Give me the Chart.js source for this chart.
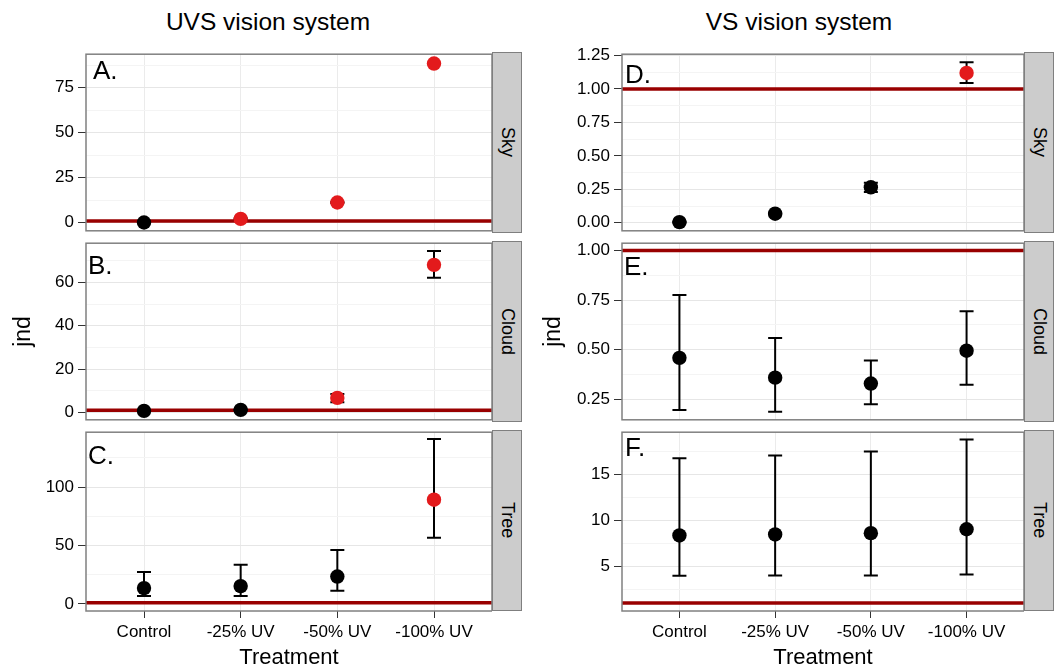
<!DOCTYPE html>
<html>
<head>
<meta charset="utf-8">
<script src="https://cdn.jsdelivr.net/npm/chart.js@4"></script>
<style>
  body { margin: 0; background: #fff; width: 1060px; height: 668px; position: relative; overflow: hidden;
         font-family: 'Liberation Sans', Arial, sans-serif; color: #000; }
  .strip { position: absolute; background: #cccccc; border: 1px solid #7f7f7f; box-sizing: border-box;
           display: flex; align-items: center; justify-content: center; writing-mode: vertical-rl; font-size: 18px; }
  .title { position: absolute; font-size: 24.5px; line-height: 1; transform: translateX(-50%); white-space: nowrap; }
  .tag { position: absolute; font-size: 26px; line-height: 1; }
</style>
</head>
<body>
<script>
  // categories on the x axis
  const categories = ['Control', '-25% UV', '-50% UV', '-100% UV'];
  const threshold = 1;

  // UVS vision system
  const uvsSkyMean  = [0.1, 2.1, 11.2, 88.3];
  const uvsSkyLow   = [-0.1, 1.8, 10.9, 88.0];
  const uvsSkyHigh  = [0.3, 2.4, 11.5, 88.6];
  const uvsSkyRed   = [false, true, true, true];
  const uvsSkyTicks = [0, 25, 50, 75];

  const uvsCloudMean  = [0.7, 1.2, 6.7, 68.1];
  const uvsCloudLow   = [0.5, 1.0, 4.7, 62.1];
  const uvsCloudHigh  = [0.9, 1.4, 8.5, 74.5];
  const uvsCloudRed   = [false, false, true, true];
  const uvsCloudTicks = [0, 20, 40, 60];

  const uvsTreeMean  = [13.5, 15.2, 23.4, 89.2];
  const uvsTreeLow   = [6.8, 6.8, 11.3, 56.6];
  const uvsTreeHigh  = [27.4, 33.6, 46.2, 141.2];
  const uvsTreeRed   = [false, false, false, true];
  const uvsTreeTicks = [0, 50, 100];

  // VS vision system
  const vsSkyMean  = [0.005, 0.068, 0.265, 1.12];
  const vsSkyLow   = [0.0, 0.062, 0.23, 1.044];
  const vsSkyHigh  = [0.01, 0.074, 0.30, 1.20];
  const vsSkyRed   = [false, false, false, true];
  const vsSkyTicks = [0, 0.25, 0.5, 0.75, 1, 1.25];

  const vsCloudMean  = [0.458, 0.358, 0.328, 0.494];
  const vsCloudLow   = [0.195, 0.186, 0.224, 0.322];
  const vsCloudHigh  = [0.775, 0.558, 0.444, 0.693];
  const vsCloudRed   = [false, false, false, false];
  const vsCloudTicks = [0.25, 0.5, 0.75, 1];

  const vsTreeMean  = [8.35, 8.46, 8.6, 9.03];
  const vsTreeLow   = [3.97, 4.0, 4.0, 4.1];
  const vsTreeHigh  = [16.75, 17.07, 17.5, 18.8];
  const vsTreeRed   = [false, false, false, false];
  const vsTreeTicks = [5, 10, 15];

  const panels = [
    { col: 0, row: 0, tag: 'A.', strip: 'Sky',   mean: uvsSkyMean,   low: uvsSkyLow,   high: uvsSkyHigh,   red: uvsSkyRed,   ticks: uvsSkyTicks,   yMin: -4.5, yMax: 93.5, dec: 0, tagPos: [93, 57] },
    { col: 0, row: 1, tag: 'B.', strip: 'Cloud', mean: uvsCloudMean, low: uvsCloudLow, high: uvsCloudHigh, red: uvsCloudRed, ticks: uvsCloudTicks, yMin: -3.4, yMax: 78.1, dec: 0, tagPos: [88, 252] },
    { col: 0, row: 2, tag: 'C.', strip: 'Tree',  mean: uvsTreeMean,  low: uvsTreeLow,  high: uvsTreeHigh,  red: uvsTreeRed,  ticks: uvsTreeTicks,  yMin: -6.1, yMax: 147.0, dec: 0, tagPos: [88, 442] },
    { col: 1, row: 0, tag: 'D.', strip: 'Sky',   mean: vsSkyMean,    low: vsSkyLow,    high: vsSkyHigh,    red: vsSkyRed,    ticks: vsSkyTicks,    yMin: -0.06, yMax: 1.26, dec: 2, tagPos: [625, 61] },
    { col: 1, row: 1, tag: 'E.', strip: 'Cloud', mean: vsCloudMean,  low: vsCloudLow,  high: vsCloudHigh,  red: vsCloudRed,  ticks: vsCloudTicks,  yMin: 0.145, yMax: 1.037, dec: 2, tagPos: [624, 253] },
    { col: 1, row: 2, tag: 'F.', strip: 'Tree',  mean: vsTreeMean,   low: vsTreeLow,   high: vsTreeHigh,   red: vsTreeRed,   ticks: vsTreeTicks,   yMin: 0.12, yMax: 19.6, dec: 0, tagPos: [625, 434] }
  ];

  // page layout
  const colLeft = [0, 530];
  const plotLeft = [86, 622];
  const plotRight = [492, 1024];
  const rowTop = [52, 241, 430];
  const plotH = 181;
  const pad = 12;
  const xMin = -0.6, xMax = 3.6;
  const font = "'Liberation Sans', Arial, sans-serif";

  const panelBorder = {
    id: 'panelBorder',
    afterDraw(chart) {
      const { ctx, chartArea: a } = chart;
      ctx.save();
      ctx.strokeStyle = '#808080';
      ctx.lineWidth = 1.5;
      ctx.strokeRect(a.left, a.top, a.right - a.left, a.bottom - a.top);
      ctx.restore();
    }
  };

  function addDiv(cls, text, css) {
    const d = document.createElement('div');
    d.className = cls;
    d.textContent = text;
    d.style.cssText = css;
    document.body.appendChild(d);
  }

  function makePanel(p) {
    const bottomRow = p.row === 2;
    const top = rowTop[p.row] - pad;
    const axisH = bottomRow ? 668 - (rowTop[p.row] + plotH) : 0;
    const h = pad + plotH + (bottomRow ? axisH : pad);
    const w = plotRight[p.col] - colLeft[p.col];

    const canvas = document.createElement('canvas');
    canvas.width = w;
    canvas.height = h;
    canvas.style.cssText = `position:absolute;left:${colLeft[p.col]}px;top:${top}px;width:${w}px;height:${h}px`;
    document.body.appendChild(canvas);

    // minor grid lines halfway between the labelled ticks
    const step = p.ticks[1] - p.ticks[0];
    const minors = [p.ticks[0] - step / 2, ...p.ticks.map(t => t + step / 2)]
      .filter(v => v >= p.yMin && v <= p.yMax);
    const allTicks = [...p.ticks, ...minors].sort((a, b) => a - b);
    const isMajor = v => p.ticks.some(t => Math.abs(t - v) < 1e-9);

    const bars = [];
    p.mean.forEach((m, i) => {
      bars.push({ x: i, y: p.low[i] }, { x: i, y: p.high[i] }, { x: i, y: null });
    });

    new Chart(canvas, {
      type: 'scatter',
      data: {
        datasets: [
          {
            data: p.mean.map((v, i) => ({ x: i, y: v })),
            pointRadius: 7.2,
            pointBorderWidth: 0,
            pointBackgroundColor: p.red.map(r => r ? '#e31a1c' : '#000000'),
            order: 0
          },
          {
            data: bars,
            showLine: true,
            borderColor: '#000',
            borderWidth: 2,
            pointStyle: 'line',
            pointRadius: 7,
            pointBorderColor: '#000',
            pointBorderWidth: 2,
            order: 1
          },
          {
            data: [{ x: xMin, y: threshold }, { x: xMax, y: threshold }],
            showLine: true,
            borderColor: '#990000',
            borderWidth: 3.5,
            pointRadius: 0,
            order: 2
          }
        ]
      },
      options: {
        responsive: false,
        animation: false,
        events: [],
        layout: { autoPadding: false, padding: { top: pad, bottom: bottomRow ? 0 : pad, left: 0, right: 0 } },
        plugins: { legend: { display: false }, tooltip: { enabled: false } },
        scales: {
          x: {
            type: 'linear',
            min: xMin,
            max: xMax,
            afterBuildTicks: s => { s.ticks = categories.map((c, i) => ({ value: i })); },
            afterFit: s => { s.height = axisH; },
            border: { display: false },
            grid: { color: '#ebebeb', lineWidth: 1, drawTicks: bottomRow, tickLength: 7, tickColor: '#333', tickWidth: 1 },
            ticks: {
              display: bottomRow, autoSkip: false, maxRotation: 0, padding: 4, color: '#000',
              font: { family: font, size: 17 },
              callback: (v, i) => categories[i]
            },
            title: { display: bottomRow, text: 'Treatment', color: '#000', padding: 0,
                     font: { family: font, size: 22, lineHeight: 0.9 } }
          },
          y: {
            min: p.yMin,
            max: p.yMax,
            afterBuildTicks: s => { s.ticks = allTicks.map(v => ({ value: v })); },
            afterFit: s => { s.width = plotLeft[p.col] - colLeft[p.col]; },
            border: { display: false },
            grid: {
              lineWidth: 1,
              color: c => (c.tick && isMajor(c.tick.value)) ? '#e6e6e6' : '#f4f4f4',
              tickColor: c => (c.tick && isMajor(c.tick.value)) ? '#333' : 'rgba(0,0,0,0)',
              tickLength: 8,
              tickWidth: 1
            },
            ticks: {
              autoSkip: false, padding: 4, color: '#000',
              font: { family: font, size: 17 },
              callback: v => isMajor(v) ? v.toFixed(p.dec) : ''
            },
            title: { display: p.row === 1, text: 'jnd', color: '#000', padding: { top: 10, bottom: 0 },
                     font: { family: font, size: 23 } }
          }
        }
      },
      plugins: [panelBorder]
    });

    addDiv('strip', p.strip,
      `left:${plotRight[p.col]}px;top:${rowTop[p.row]}px;width:30px;height:${plotH}px`);
    addDiv('tag', p.tag, `left:${p.tagPos[0]}px;top:${p.tagPos[1]}px`);
  }

  panels.forEach(makePanel);

  addDiv('title', 'UVS vision system', 'left:268px;top:10px');
  addDiv('title', 'VS vision system', 'left:799px;top:10px');
</script>
</body>
</html>
